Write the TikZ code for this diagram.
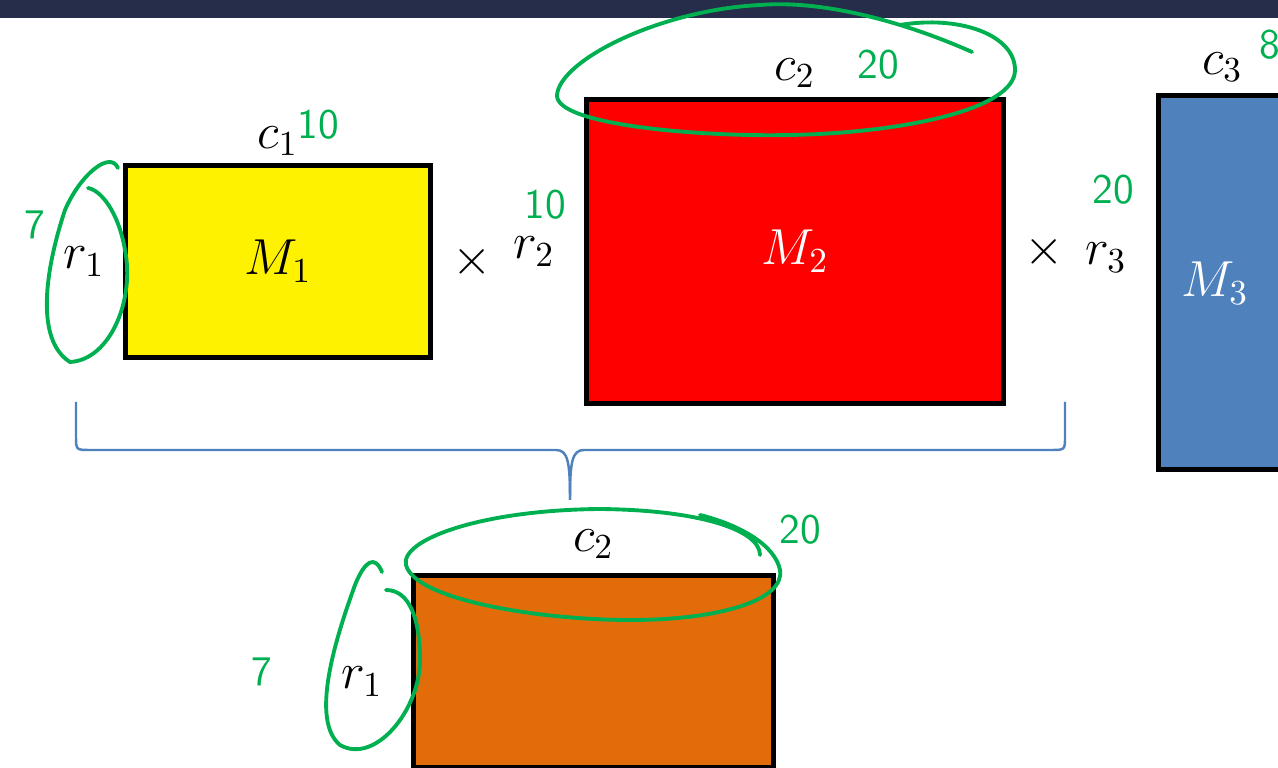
\documentclass[tikz,border=0pt]{standalone}
\usepackage{tikz}
\usetikzlibrary{positioning}
\definecolor{inkgreen}{RGB}{0,176,80}
\definecolor{darkbar}{RGB}{37,45,75}
\definecolor{steelblue}{RGB}{79,129,189}
\definecolor{burntorange}{RGB}{227,108,10}

\begin{document}
\begin{tikzpicture}[x=0.1mm,y=-0.1mm,
    mat/.style={draw=black, line width=1.4pt, inner sep=0pt, anchor=north west},
    lbl/.style={font=\Large, inner sep=1pt},
    ink/.style={draw=inkgreen, line width=1.1pt, line cap=round},
    inknum/.style={text=inkgreen, font=\large\sffamily, inner sep=0pt}]
        \useasboundingbox (0,0) rectangle (1278,768);
        \clip (0,0) rectangle (1278,768);
        % Title bar
        \fill[darkbar] (0,0) rectangle (1278,18);
        % Matrices
        \node[mat, fill=yellow, minimum width=30.5mm, minimum height=19.2mm] (m1) at (123,163) {};
        \node[mat, fill=red, minimum width=41.7mm, minimum height=30.4mm] (m2) at (584,97) {};
        \node[mat, fill=steelblue, minimum width=16mm, minimum height=37.4mm] (m3) at (1156,93) {};
        \node[mat, fill=burntorange, minimum width=36mm, minimum height=19.2mm] (p) at (411,573) {};
        \node[lbl] at (m1) {$M_1$};
        \node[lbl, text=white] at (m2) {$M_2$};
        \node[lbl, text=white] (m3t) at (1215,283) {$M_3$};
        % Dimensions
        \node[lbl, above=0.3mm of m1] (c1) {$c_1$};
        \node[lbl, left=1.4mm of m1] (r1) {$r_1$};
        \node[lbl, right=1.5mm of m1] (x1) {$\times$};
        \node[lbl, left=2.5mm of m2] (r2) {$r_2$};
        \node[lbl, above=0.5mm of m2] (c2) {$c_2$};
        \node[lbl, right=1.4mm of m2] (x2) {$\times$};
        \node[lbl, left=2.5mm of m3, yshift=2.5mm] (r3) {$r_3$};
        \node[lbl, above=0.7mm of m3.north, xshift=-1.6mm] (c3) {$c_3$};
        \node[lbl, above=1mm of p] (pc) {$c_2$};
        \node[lbl, left=2.4mm of p, yshift=-1mm] (pr) {$r_1$};
        % Brace
        \draw[steelblue, line width=0.7pt] (76,402) -- (76,436) .. controls (76,450) .. (90,450)
            -- (556,450) .. controls (568,450) and (570,462) .. (570,500);
        \draw[steelblue, line width=0.7pt] (1065,402) -- (1065,436) .. controls (1065,450) .. (1051,450)
            -- (584,450) .. controls (572,450) and (570,462) .. (570,500);
        % Ink notes
        \node[inknum] (n1) at (318,125) {10};
        \node[inknum] (n2) at (35,225) {7};
        \node[inknum] (n3) at (545,205) {10};
        \node[inknum] (n4) at (878,65) {20};
        \node[inknum] (n5) at (1113,190) {20};
        \node[inknum] (n6) at (1270,45) {8};
        \node[inknum] (n7) at (800,530) {20};
        \node[inknum] (n8) at (262,672) {7};
        \draw[ink] (118,168) .. controls (110,150) and (80,175) .. (65,210)
            .. controls (45,270) and (35,340) .. (70,362)
            .. controls (110,360) and (135,300) .. (125,250)
            .. controls (118,210) and (100,190) .. (88,188);
        \draw[ink] (972,52) .. controls (900,20) and (820,0) .. (760,5)
            .. controls (660,10) and (560,60) .. (557,95)
            .. controls (555,125) and (700,137) .. (790,135)
            .. controls (900,133) and (1015,110) .. (1015,70)
            .. controls (1015,35) and (960,15) .. (900,25);
        \draw[ink] (760,555) .. controls (760,530) and (700,510) .. (600,509)
            .. controls (480,510) and (400,540) .. (406,565)
            .. controls (415,600) and (540,620) .. (630,620)
            .. controls (720,620) and (785,600) .. (780,570)
            .. controls (775,545) and (740,525) .. (700,515);
        \draw[ink] (382,572) .. controls (375,555) and (365,560) .. (355,585)
            .. controls (335,640) and (310,720) .. (340,745)
            .. controls (375,765) and (420,710) .. (420,660)
            .. controls (420,620) and (410,590) .. (386,590);
    \end{tikzpicture}
\end{document}
